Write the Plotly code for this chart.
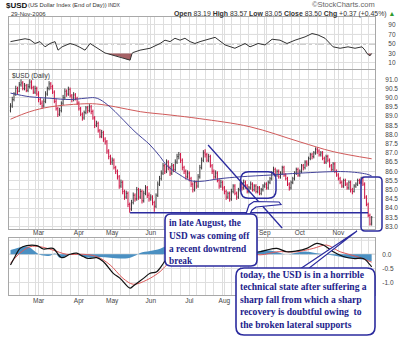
import pandas as pd
import plotly.graph_objects as go

W, H = 400, 343

# ---------------------------------------------------------------- calendar
first_day, last_day = "2006-02-06", "2006-11-29"
exchange_holidays = ["2006-02-20", "2006-04-14", "2006-05-29",
                     "2006-07-04", "2006-09-04", "2006-11-23"]
month_labels = ["Mar", "Apr", "May", "Jun", "Jul", "Aug", "Sep", "Oct", "Nov"]
month_first_sessions = ["2006-03-01", "2006-04-03", "2006-05-01", "2006-06-01",
                        "2006-07-03", "2006-08-01", "2006-09-01", "2006-10-02",
                        "2006-11-01"]
# months whose axis label sits underneath a callout box
price_axis_hidden = ["Jul", "Aug"]
macd_axis_hidden = ["Sep", "Oct", "Nov"]
price_ticks = [83.0, 83.5, 84.0, 84.5, 85.0, 85.5, 86.0, 86.5, 87.0, 87.5, 88.0, 88.5, 89.0, 89.5, 90.0, 90.5, 91.0]
rsi_ticks = [10, 30, 50, 70, 90]
macd_ticks = [0.0, -0.5, -1.0]

# ---------------------------------------------------------------- daily prices
first_open = 89.30
last_open = 83.19

close_feb = [89.55, 89.9, 90.2, 90.5, 90.35, 90.7, 90.8, 90.5, 90.65, 90.4, 90.6, 90.85, 90.55, 90.3, 90.5, 90.2]
high_feb = [89.7, 90.05, 90.3, 90.65, 90.6, 90.85, 91.0, 90.9, 90.8, 90.75, 90.75, 91.0, 90.95, 90.65, 90.65, 90.6]
low_feb = [89.2, 89.45, 89.8, 90.1, 90.2, 90.3, 90.6, 90.4, 90.4, 90.3, 90.3, 90.5, 90.45, 90.2, 90.2, 90.1]

close_mar = [89.9, 89.7, 89.55, 89.8, 90.2, 90.5, 90.75, 90.6, 90.3, 89.8, 89.4, 89.1, 89.3, 89.7, 90.0, 90.35, 90.2, 90.45, 90.1, 89.9, 90.15, 89.95, 89.7]
high_mar = [90.35, 90.0, 89.85, 89.95, 90.35, 90.6, 90.9, 90.85, 90.7, 90.4, 89.95, 89.5, 89.45, 89.8, 90.15, 90.5, 90.45, 90.6, 90.55, 90.2, 90.3, 90.25, 90.05]
low_mar = [89.75, 89.6, 89.4, 89.45, 89.7, 90.1, 90.4, 90.45, 90.2, 89.7, 89.3, 88.95, 89.0, 89.2, 89.6, 89.9, 90.05, 90.1, 90.0, 89.75, 89.8, 89.85, 89.6]

close_apr = [89.4, 89.1, 88.9, 89.2, 89.45, 89.3, 89.5, 89.25, 88.9, 88.5, 88.6, 88.2, 87.9, 88.1, 87.75, 87.6, 87.1, 86.8, 86.5]
high_apr = [89.8, 89.5, 89.2, 89.3, 89.55, 89.55, 89.65, 89.6, 89.35, 89.0, 88.75, 88.7, 88.3, 88.25, 88.2, 87.85, 87.7, 87.2, 86.9]
low_apr = [89.3, 89.0, 88.75, 88.8, 89.1, 89.15, 89.2, 89.1, 88.8, 88.35, 88.4, 88.1, 87.8, 87.8, 87.6, 87.45, 86.95, 86.65, 86.35]

close_may = [86.6, 86.2, 86.0, 85.7, 85.2, 85.4, 84.9, 84.6, 84.8, 84.2, 83.95, 84.3, 84.7, 84.5, 85.0, 84.6, 84.9, 84.4, 84.8, 85.1, 84.7, 84.5]
high_may = [86.75, 86.7, 86.3, 86.1, 85.8, 85.55, 85.5, 85.0, 84.95, 84.9, 84.3, 84.45, 84.85, 84.8, 85.15, 85.1, 85.05, 85.0, 84.95, 85.25, 85.2, 84.85]
low_may = [86.35, 86.1, 85.85, 85.55, 85.05, 85.1, 84.75, 84.45, 84.5, 84.05, 83.75, 83.85, 84.2, 84.35, 84.4, 84.45, 84.5, 84.25, 84.3, 84.7, 84.55, 84.35]

close_jun = [84.6, 84.3, 84.1, 84.7, 85.3, 85.6, 85.9, 86.3, 86.0, 86.5, 86.2, 85.9, 86.3, 86.1, 86.5, 86.8, 86.9, 86.6, 86.2, 86.0, 85.7, 85.9]
high_jun = [84.75, 84.7, 84.4, 84.8, 85.45, 85.75, 86.05, 86.45, 86.4, 86.65, 86.6, 86.3, 86.45, 86.4, 86.65, 86.95, 87.05, 87.0, 86.7, 86.3, 86.1, 86.05]
low_jun = [84.4, 84.15, 83.8, 84.0, 84.6, 85.2, 85.5, 85.8, 85.85, 85.9, 86.05, 85.75, 85.8, 85.95, 86.0, 86.4, 86.65, 86.45, 86.05, 85.85, 85.55, 85.6]

close_jul = [85.6, 85.3, 85.0, 85.4, 85.2, 85.7, 86.2, 86.6, 87.0, 86.9, 86.6, 86.8, 86.3, 86.0, 85.7, 85.9, 85.5, 85.2, 85.4, 85.1]
high_jul = [86.0, 85.7, 85.4, 85.5, 85.5, 85.85, 86.35, 86.75, 87.15, 87.2, 87.0, 86.95, 86.9, 86.4, 86.1, 86.05, 86.0, 85.6, 85.55, 85.5]
low_jul = [85.45, 85.15, 84.85, 84.9, 85.05, 85.1, 85.6, 86.1, 86.5, 86.75, 86.5, 86.5, 86.2, 85.85, 85.55, 85.6, 85.4, 85.05, 85.1, 84.95]

close_aug = [84.9, 84.6, 84.8, 84.5, 84.9, 85.2, 84.8, 84.6, 85.0, 85.3, 85.1, 85.4, 85.2, 84.9, 85.1, 85.3, 85.0, 85.2, 84.9, 85.1, 84.8, 85.0, 85.2]
high_aug = [85.2, 85.0, 84.9, 84.9, 85.05, 85.3, 85.3, 84.9, 85.1, 85.4, 85.4, 85.55, 85.5, 85.3, 85.2, 85.45, 85.4, 85.3, 85.3, 85.2, 85.2, 85.1, 85.3]
low_aug = [84.75, 84.45, 84.5, 84.35, 84.4, 84.8, 84.7, 84.45, 84.5, 84.9, 84.95, 85.0, 85.05, 84.8, 84.8, 85.0, 84.9, 84.9, 84.8, 84.8, 84.7, 84.7, 84.9]

close_sep = [85.3, 85.1, 85.4, 85.6, 85.9, 86.1, 85.8, 86.0, 85.7, 85.9, 86.2, 85.8, 85.6, 85.3, 85.1, 85.4, 85.6, 85.9, 86.1, 85.8]
high_sep = [85.4, 85.4, 85.5, 85.7, 86.0, 86.25, 86.2, 86.1, 86.1, 86.0, 86.3, 86.3, 85.9, 85.7, 85.4, 85.5, 85.7, 86.0, 86.2, 86.2]
low_sep = [85.1, 85.0, 85.0, 85.3, 85.5, 85.8, 85.7, 85.7, 85.6, 85.6, 85.8, 85.7, 85.5, 85.2, 84.95, 85.0, 85.3, 85.5, 85.8, 85.7]

close_oct = [86.0, 86.3, 86.2, 86.5, 86.4, 86.7, 86.9, 86.8, 87.0, 87.2, 87.1, 86.9, 87.0, 86.7, 86.5, 86.8, 86.6, 86.3, 86.1, 86.4, 86.0, 85.8]
high_oct = [86.1, 86.4, 86.4, 86.6, 86.6, 86.8, 87.0, 87.0, 87.1, 87.3, 87.3, 87.2, 87.1, 87.1, 86.8, 86.9, 86.9, 86.7, 86.4, 86.5, 86.5, 86.1]
low_oct = [85.7, 85.9, 86.05, 86.1, 86.25, 86.3, 86.6, 86.65, 86.7, 86.9, 86.95, 86.8, 86.8, 86.6, 86.4, 86.4, 86.5, 86.2, 86.0, 86.0, 85.9, 85.7]

close_nov = [85.6, 85.4, 85.2, 85.5, 85.3, 85.1, 85.4, 85.0, 84.9, 85.2, 85.3, 85.5, 85.4, 85.6, 85.3, 84.6, 84.2, 83.6, 83.13, 83.50]
high_nov = [85.9, 85.7, 85.5, 85.6, 85.6, 85.4, 85.5, 85.5, 85.1, 85.3, 85.4, 85.6, 85.6, 85.7, 85.7, 85.4, 84.7, 84.3, 83.7, 83.57]
low_nov = [85.5, 85.3, 85.1, 85.1, 85.2, 85.0, 85.0, 84.85, 84.75, 84.85, 85.1, 85.2, 85.3, 85.3, 85.2, 84.5, 84.1, 83.5, 83.05, 83.05]

# ---------------------------------------------------------------- overlays (bar index, value)
ma50_x = [0, 11, 22.5, 34, 42.5, 48, 51, 56.8, 62.5, 71, 79.6, 85.3, 89.3, 96.7, 102.4, 108, 119.5, 131, 149, 165, 191, 203, 206]
ma50_v = [90.25, 90.05, 89.97, 89.9, 89.97, 90.0, 89.9, 89.5, 88.97, 88.15, 87.43, 86.8, 86.3, 85.8, 85.5, 85.45, 85.6, 85.7, 85.8, 85.9, 85.98, 85.85, 85.75]
ma200_x = [0, 11, 22.5, 40, 49, 60, 74, 91, 108, 136.6, 165, 184, 206]
ma200_v = [88.83, 89.24, 89.5, 89.66, 89.66, 89.5, 89.24, 89.06, 88.86, 88.42, 87.6, 87.07, 86.68]

rsi_x = [0, 5.4, 8.3, 11.1, 14, 16.8, 19.7, 22.5, 25.4, 27.1, 29.4, 33.9, 36.8, 39.6, 42.5, 45.4, 48.2, 51.1, 53.9, 55,
         57.9, 62.5, 65.9, 68.2, 69.3, 69.9, 73.9, 79.6, 85.3, 88.1, 91, 93.8, 96.7, 99.5, 102.4, 105.2, 108.1, 113.8,
         116.7, 122.4, 128, 133.8, 136.6, 141.2, 145.2, 149.2, 153.7, 157.7, 162.3, 168, 172, 175.4, 179.4, 184, 188,
         192.5, 196.5, 200.5, 202.2, 203.3, 205, 206]
rsi_v = [55, 58, 61, 59, 51, 55, 44, 51, 55, 37, 44, 51, 48, 43, 37, 51, 44, 37, 31, 30,
         27, 23, 18, 16, 30, 32, 37, 41, 51, 58, 55, 62, 58, 62, 55, 51, 55, 62,
         64, 48, 41, 51, 44, 51, 48, 60, 58, 51, 58, 65, 72, 69, 62, 44, 41,
         44, 41, 44, 37, 30, 25, 30]
rsi_levels = [30, 50, 70]

macd_x = [0, 2.6, 5.4, 9.2, 15, 18.7, 24.2, 29.2, 33.9, 37.8, 41.5, 44.4, 49.2, 52.9, 58.6, 62.5, 68.2, 70, 75.8, 79.6,
          83.4, 87.2, 89.1, 93.8, 102.4, 113.8, 125.2, 133.8, 142.3, 146.1, 151.9, 157.6, 163.3, 169, 174.7, 178.4,
          184.1, 189.8, 195.6, 201.3, 205.1, 206]
macd_v = [-0.38, -0.08, 0.21, 0.31, 0.31, 0.19, 0.21, -0.12, 0.0, 0.04, -0.08, -0.15, -0.12, -0.26, -0.68, -0.86, -1.21,
          -1.13, -0.86, -0.68, -0.62, -0.32, -0.15, 0.1, 0.25, 0.3, 0.15, 0.05, 0.09, 0.15, 0.21, 0.09, 0.12, 0.21,
          0.39, 0.33, 0.09, -0.08, -0.15, -0.15, -0.38, -0.45]
signal_x = [0, 5.4, 11.1, 16.8, 24.2, 32, 41.4, 49.2, 56.8, 64.2, 70, 77.7, 85.3, 89.1, 96.7, 108, 125.2, 142.3,
            151.9, 163.3, 172.7, 180.3, 188, 197.5, 206]
signal_v = [-0.32, 0.04, 0.27, 0.27, 0.15, 0.0, 0.0, -0.08, -0.38, -0.86, -1.07, -0.92, -0.62, -0.38, -0.05, 0.2,
            0.2, -0.02, 0.09, 0.09, 0.21, 0.33, 0.09, -0.08, -0.28]
hist_x = [0, 2.6, 5.4, 10, 14, 16.8, 22.5, 25.4, 28.2, 32.8, 36.8, 39.6, 45.4, 51.1, 56.8, 62.5, 68.2, 71, 73.9,
          79.6, 85.3, 89.3, 100, 115, 130, 141.2, 145.2, 151, 156.6, 162.3, 168, 173.7, 179.4, 185.1, 190.8, 196.5,
          202.2, 206]
hist_v = [0.15, 0.2, 0.25, 0.27, 0.1, -0.02, -0.05, 0.03, -0.12, -0.04, 0.0, -0.05, -0.12, -0.1, -0.12, -0.15,
          -0.12, -0.05, 0.05, 0.12, 0.2, 0.3, 0.2, 0.1, 0.05, 0.1, 0.15, 0.1, 0.0, 0.05, 0.1, 0.05, 0.0, -0.05,
          -0.12, -0.15, -0.2, -0.25]

# chart annotations (price levels in data units)
support_level = 83.75
support_from, support_to = 68.2, 203.9
trend_from = (112.7, 87.43)
trend_to = (154.9, 82.92)

callout_aug = ["in late August, the", "USD was coming off", "a recent downtrend", "break"]
callout_nov = ["today, the USD is in a horrible", "technical state after suffering a",
               "sharp fall from which a sharp", "recovery is doubtful owing  to",
               "the broken lateral supports"]

# ---------------------------------------------------------------- assemble series
sessions = pd.bdate_range(first_day, last_day)
sessions = sessions[~sessions.isin(pd.to_datetime(exchange_holidays))]
n = len(sessions)
bars = list(range(n))
pos = {d.strftime("%Y-%m-%d"): i for i, d in enumerate(sessions)}
month_ticks = [pos[d] for d in month_first_sessions]
week_ticks = [i for i in range(1, n) if sessions[i].weekday() < sessions[i - 1].weekday()]
price_ticktext = ["" if m in price_axis_hidden else m for m in month_labels]
macd_ticktext = ["" if m in macd_axis_hidden else m for m in month_labels]

closes = close_feb + close_mar + close_apr + close_may + close_jun + close_jul + close_aug + close_sep + close_oct + close_nov
highs = high_feb + high_mar + high_apr + high_may + high_jun + high_jul + high_aug + high_sep + high_oct + high_nov
lows = low_feb + low_mar + low_apr + low_may + low_jun + low_jul + low_aug + low_sep + low_oct + low_nov
opens = [first_open] + closes[:-1]
opens[-1] = last_open
assert len(closes) == len(highs) == len(lows) == n

chg = closes[-1] - closes[-2]
chg_pct = chg / closes[-2] * 100

# ---------------------------------------------------------------- styling
UP, DOWN = "#3c3c3c", "#cc1040"
GRID = "#dedede"
FRAME = "#a8a8a8"
NAVY = "#2b2b9e"
TEXT_NAVY = "#1d1d8c"
SANS = "Liberation Sans, Arial, sans-serif"
SERIF = "Liberation Serif, Times New Roman, serif"

X_RANGE = [-0.86, 207.9]
PLOT_L, PLOT_R = 9, 375


def fx(x):
    return x / W


def fy(y):
    return 1 - y / H


def dom_y(top, bottom):
    return [fy(bottom), fy(top)]


def rrect(x0, y0, x1, y1, r):
    p = lambda x, y: f"{fx(x):.5f},{fy(y):.5f}"
    return (f"M{p(x0 + r, y0)} L{p(x1 - r, y0)} Q{p(x1, y0)} {p(x1, y0 + r)} "
            f"L{p(x1, y1 - r)} Q{p(x1, y1)} {p(x1 - r, y1)} L{p(x0 + r, y1)} "
            f"Q{p(x0, y1)} {p(x0, y1 - r)} L{p(x0, y0 + r)} Q{p(x0, y0)} {p(x0 + r, y0)} Z")


def poly(points, close=True):
    s = " ".join(("M" if i == 0 else "L") + f"{fx(x):.5f},{fy(y):.5f}" for i, (x, y) in enumerate(points))
    return s + (" Z" if close else "")


fig = go.Figure()

# price panel
fig.add_trace(go.Ohlc(x=bars, open=opens, high=highs, low=lows, close=closes,
                      increasing=dict(line=dict(color=UP, width=1)),
                      decreasing=dict(line=dict(color=DOWN, width=1)),
                      tickwidth=0.35, xaxis="x", yaxis="y", hoverinfo="skip"))
fig.add_trace(go.Scatter(x=ma200_x, y=ma200_v, mode="lines", line=dict(color="#d05a5a", width=1, shape="spline"),
                         xaxis="x", yaxis="y"))
fig.add_trace(go.Scatter(x=ma50_x, y=ma50_v, mode="lines", line=dict(color="#44449a", width=1, shape="spline"),
                         xaxis="x", yaxis="y"))

# RSI panel
rsi_floor = [min(v, rsi_levels[0]) for v in rsi_v]
fig.add_trace(go.Scatter(x=rsi_x, y=[rsi_levels[0]] * len(rsi_x), mode="lines", line=dict(width=0),
                         xaxis="x2", yaxis="y2"))
fig.add_trace(go.Scatter(x=rsi_x, y=rsi_floor, mode="lines", line=dict(width=0), fill="tonexty",
                         fillcolor="rgba(150,70,75,0.85)", xaxis="x2", yaxis="y2"))
fig.add_trace(go.Scatter(x=rsi_x, y=rsi_v, mode="lines", line=dict(color="#333333", width=1),
                         xaxis="x2", yaxis="y2"))

# MACD panel
fig.add_trace(go.Scatter(x=hist_x, y=hist_v, mode="lines", line=dict(width=0, shape="spline"), fill="tozeroy",
                         fillcolor="#4b90c2", xaxis="x3", yaxis="y3"))
fig.add_trace(go.Scatter(x=signal_x, y=signal_v, mode="lines", line=dict(color="#dd5a5a", width=1, shape="spline"),
                         xaxis="x3", yaxis="y3"))
fig.add_trace(go.Scatter(x=macd_x, y=macd_v, mode="lines", line=dict(color="#111111", width=1.2, shape="spline"),
                         xaxis="x3", yaxis="y3"))

xcommon = dict(range=X_RANGE, domain=[fx(PLOT_L), fx(PLOT_R)], tickmode="array", tickvals=month_ticks,
               ticktext=month_labels, showgrid=True, gridcolor=GRID, gridwidth=1, zeroline=False,
               showline=True, mirror=True, linecolor=FRAME, linewidth=1, ticks="",
               tickfont=dict(family=SANS, size=6.5, color="#444"),
               minor=dict(tickvals=week_ticks, showgrid=True, gridcolor=GRID, gridwidth=1))
ycommon = dict(side="right", showgrid=True, gridcolor=GRID, gridwidth=1, zeroline=False,
               showline=True, mirror=True, linecolor=FRAME, linewidth=1,
               ticks="outside", tickcolor="rgba(0,0,0,0)", tickmode="array",
               tickfont=dict(family=SANS, size=6.5, color="#444"))

fig.update_layout(
    width=W, height=H, margin=dict(l=0, r=0, t=0, b=0),
    paper_bgcolor="white", plot_bgcolor="white", showlegend=False,
    xaxis=dict(xcommon, anchor="y", ticktext=price_ticktext, ticklabelstandoff=-3,
               rangeslider=dict(visible=False)),
    yaxis=dict(ycommon, domain=dom_y(70, 229), range=[82.864, 91.505],
               tickvals=price_ticks, ticktext=[f"{v:.1f}" for v in price_ticks], ticklen=8, anchor="x"),
    xaxis2=dict(xcommon, anchor="y2", showticklabels=False),
    yaxis2=dict(ycommon, domain=dom_y(17, 68.5), range=[-1.6, 106.8],
                tickvals=rsi_ticks, ticklen=11, anchor="x2"),
    xaxis3=dict(xcommon, anchor="y3", ticktext=macd_ticktext, ticklabelstandoff=-1),
    yaxis3=dict(ycommon, domain=dom_y(238, 295), range=[-1.454, 0.582],
                tickvals=macd_ticks, ticktext=[f"{v:.1f}" for v in macd_ticks], ticklen=5, anchor="x3"),
)

# RSI reference levels
for lvl in rsi_levels:
    fig.add_shape(type="line", xref="x2", yref="y2", x0=X_RANGE[0], x1=X_RANGE[1], y0=lvl, y1=lvl,
                  line=dict(color="#8a8a8a" if lvl != 50 else "#9a9a9a", width=1,
                            dash="solid" if lvl != 50 else "dashdot"), layer="below")
# MACD zero line and upper grid line
for lvl, col in [(0, "#b0b0b0"), (0.5, GRID)]:
    fig.add_shape(type="line", xref="x3", yref="y3", x0=X_RANGE[0], x1=X_RANGE[1], y0=lvl, y1=lvl,
                  line=dict(color=col, width=1), layer="below")

# hand-drawn study marks
fig.add_shape(type="line", xref="x", yref="y", x0=support_from, x1=support_to, y0=support_level, y1=support_level,
              line=dict(color=NAVY, width=1.6))
fig.add_shape(type="line", xref="x", yref="y", x0=trend_from[0], y0=trend_from[1], x1=trend_to[0], y1=trend_to[1],
              line=dict(color=NAVY, width=1.3))
fig.add_shape(type="path", xref="paper", yref="paper", path=rrect(240.7, 171.7, 276, 198.3, 8),
              line=dict(color=NAVY, width=1.5))
fig.add_shape(type="path", xref="paper", yref="paper",
              path=poly([(246, 214), (249, 205), (254, 201.5), (279, 202), (281, 204.5), (256, 207), (252, 210), (250, 214)]),
              line=dict(color=NAVY, width=1.2), fillcolor="white")
fig.add_shape(type="path", xref="paper", yref="paper", path=rrect(361, 177, 382, 231, 4),
              line=dict(color=NAVY, width=1.5))
fig.add_shape(type="path", xref="paper", yref="paper", path=rrect(165, 214, 257, 266, 6),
              line=dict(color=NAVY, width=1.6), fillcolor="white")
fig.add_shape(type="path", xref="paper", yref="paper", path=poly([(300, 269), (357, 231), (308, 269)]),
              line=dict(color=NAVY, width=1.2), fillcolor="white")
fig.add_shape(type="path", xref="paper", yref="paper", path=rrect(236, 268, 375, 335, 8),
              line=dict(color=NAVY, width=1.6), fillcolor="white")


# text
def label(x, y, text, size=6.5, color="#333", family=SANS, anchor="left"):
    fig.add_annotation(xref="paper", yref="paper", x=fx(x), y=fy(y), text=text, showarrow=False,
                       xanchor=anchor, yanchor="middle", font=dict(family=family, size=size, color=color))


label(4, 5.5, "<b>$USD</b>", size=8, color="#111")
label(26, 5.5, "(US Dollar Index (End of Day))", size=5.8, color="#333")
label(106, 5.5, "INDX", size=5, color="#333")
label(9, 14, "29-Nov-2006", size=6, color="#333")
label(377, 4.5, "\u00a9StockCharts.com", size=7.5, color="#666", anchor="right")
label(397, 14,
      f"<b>Open</b> {opens[-1]:.2f} <b>High</b> {highs[-1]:.2f} <b>Low</b> {lows[-1]:.2f} "
      f"<b>Close</b> {closes[-1]:.2f} <b>Chg</b> {chg:+.2f} ({chg_pct:+.2f}%) "
      f"<span style='color:#2e9a2e'>\u25b2</span>", size=6.9, color="#333", anchor="right")
label(10, 76, "$USD (Daily)", size=6.5, color="#333")

for i, line in enumerate(callout_aug):
    label(166.5, 223 + i * 12.8, f"<b>{line}</b>", size=9.3, color=TEXT_NAVY, family=SERIF)
for i, line in enumerate(callout_nov):
    label(238, 274.5 + i * 12.4, f"<b>{line}</b>", size=9.6, color=TEXT_NAVY, family=SERIF)

fig.write_html("out.html")
